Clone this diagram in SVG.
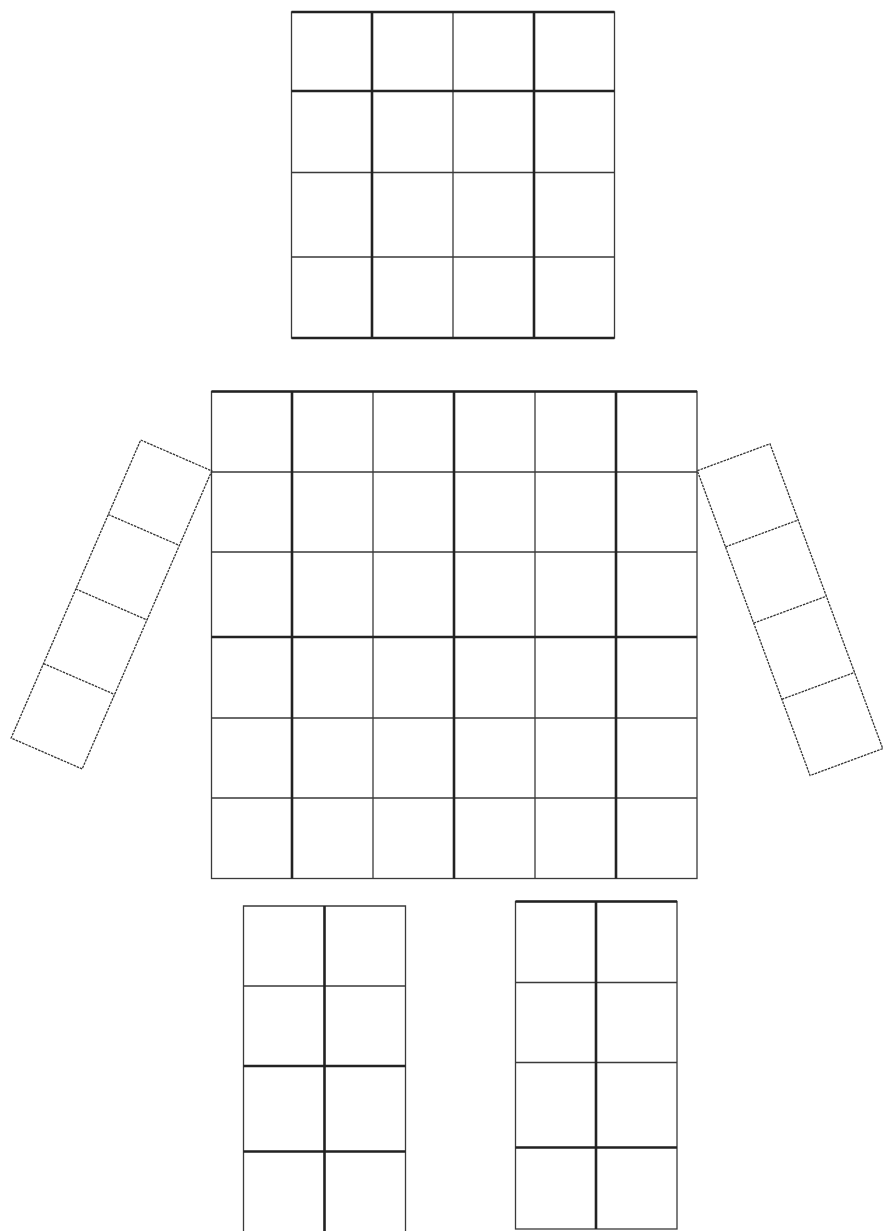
<svg xmlns="http://www.w3.org/2000/svg" width="883" height="1231" viewBox="0 0 883 1231">
<style>
.thin{stroke:#3a3a3a;stroke-width:1.3;fill:none}
.thick{stroke:#222;stroke-width:2.6;fill:none}
.dash{stroke:#333;stroke-width:1.3;fill:none;stroke-dasharray:2.5 1}
</style>
<rect width="883" height="1231" fill="#fff"/>
<g id="head">
<rect class="thin" x="291.5" y="12" width="323" height="326"/>
<path class="thin" d="M453,12V338M291.5,172.5H614.5M291.5,257H614.5"/>
<path class="thick" d="M291.5,12H614.5M291.5,338H614.5M372,12V338M534,12V338M291.5,91H614.5"/>
</g>
<g id="body">
<rect class="thin" x="211.5" y="391.5" width="485.5" height="487"/>
<path class="thin" d="M373,391.5V878.5M535,391.5V878.5M211.5,472H697M211.5,552H697M211.5,718H697M211.5,798H697"/>
<path class="thick" d="M211.5,391.5H697M292,391.5V878.5M454,391.5V878.5M616,391.5V878.5M211.5,637H697"/>
</g>
<g id="left-arm" transform="translate(140.7,440) rotate(23.5)">
<rect class="dash" x="0" y="0" width="77.5" height="325"/>
<path class="dash" d="M0,81.25H77.5M0,162.5H77.5M0,243.75H77.5"/>
</g>
<g id="right-arm" transform="translate(697.3,470.7) rotate(-20.3)">
<rect class="dash" x="0" y="0" width="77.5" height="325"/>
<path class="dash" d="M0,81.25H77.5M0,162.5H77.5M0,243.75H77.5"/>
</g>
<g id="left-leg">
<path class="thin" d="M243.5,1235V906H405.5V1235M243.5,986H405.5"/>
<path class="thick" d="M324.5,906V1235M243.5,1066H405.5M243.5,1151.5H405.5"/>
</g>
<g id="right-leg">
<rect class="thin" x="515.5" y="901.5" width="161.5" height="327.5"/>
<path class="thin" d="M515.5,982.5H677M515.5,1062.5H677"/>
<path class="thick" d="M515.5,901.5H677M596,901.5V1229M515.5,1147.5H677"/>
</g>
<g id="connectors"></g>
</svg>
